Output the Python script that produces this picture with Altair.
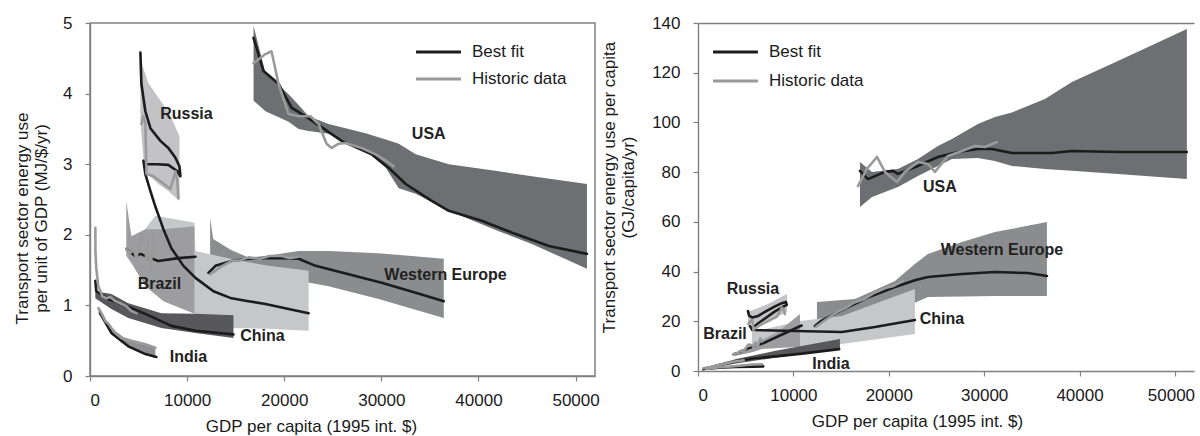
import altair as alt
import pandas as pd

FONT = "Liberation Sans, Arial, Helvetica, sans-serif"
INK = "#1a1a1a"
FIT_COLOR = "#1c1c1c"
HIST_COLOR = "#9a9a9a"
GRID_COLOR = "#808080"

# ---------------- left panel: energy use per unit of GDP (MJ/$/yr) ----------------
# uncertainty bands: GDP grid, lower edge, upper edge
usa_l_x = [16840, 18070, 20450, 21480, 22510, 24570, 28380, 30450, 31790, 33540, 36940, 42100, 45500, 51170]
usa_l_hi = [4.96, 4.29, 3.99, 3.84, 3.68, 3.57, 3.44, 3.35, 3.29, 3.14, 3.00, 2.90, 2.83, 2.72]
usa_l_lo = [3.90, 3.75, 3.60, 3.50, 3.47, 3.43, 3.19, 2.95, 2.66, 2.58, 2.34, 2.05, 1.87, 1.52]

we_l_x = [12370, 12680, 14570, 16320, 18070, 21480, 24570, 29720, 36430]
we_l_hi = [2.24, 1.94, 1.78, 1.68, 1.70, 1.77, 1.77, 1.74, 1.66]
we_l_lo = [1.44, 1.44, 1.42, 1.40, 1.35, 1.35, 1.27, 1.09, 0.82]

ru_l_x = [5190, 5490, 6010, 7040, 8070, 9210]
ru_l_hi = [4.49, 4.36, 4.15, 3.94, 3.75, 3.40]
ru_l_lo = [3.60, 3.10, 2.85, 2.72, 2.62, 2.48]

cn_l_x = [5500, 6730, 10750, 10860, 14470, 18380, 22510]
cn_l_hi = [2.05, 2.27, 2.17, 1.77, 1.66, 1.56, 1.49]
cn_l_lo = [1.90, 1.50, 0.90, 0.81, 0.68, 0.67, 0.64]

br_l_x = [3740, 4260, 5700, 7560, 10750]
br_l_hi = [2.48, 1.98, 2.08, 2.08, 2.12]
br_l_lo = [1.70, 1.60, 1.27, 1.06, 0.88]

dk_l_x = [550, 2200, 3950, 7350, 10860, 14770]
dk_l_hi = [1.20, 1.16, 1.03, 0.89, 0.88, 0.86]
dk_l_lo = [1.10, 0.95, 0.82, 0.68, 0.61, 0.54]

sh_l_x = [870, 2200, 3950, 6730]
sh_l_hi = [0.96, 0.68, 0.50, 0.40]
sh_l_lo = [0.88, 0.59, 0.40, 0.25]

# best-fit curves
usa_fit_l_x = [16840, 17870, 19410, 20750, 22510, 25910, 29000, 30750, 32510, 35190, 36940, 40340, 43850, 47250, 51170]
usa_fit_l_y = [4.79, 4.32, 4.14, 3.80, 3.65, 3.33, 3.14, 2.95, 2.72, 2.48, 2.34, 2.20, 2.01, 1.84, 1.73]
we_fit_l_x = [12200, 12920, 14570, 16320, 18070, 19720, 21480, 23230, 26630, 30030, 33540, 36430]
we_fit_l_y = [1.46, 1.56, 1.63, 1.66, 1.67, 1.67, 1.66, 1.56, 1.44, 1.32, 1.18, 1.06]
ru_fit_l_x = [5190, 5290, 5700, 6220, 7250, 8070, 8800, 9210, 9310, 9000, 8070, 6840, 5700]
ru_fit_l_y = [4.58, 4.14, 3.75, 3.51, 3.33, 3.23, 3.09, 2.97, 2.83, 2.90, 2.99, 3.00, 3.00]
cn_fit_l_x = [5500, 5700, 6220, 6730, 7560, 8380, 9620, 10860, 12710, 14570, 16320, 18070, 20450, 22510]
cn_fit_l_y = [3.05, 2.86, 2.62, 2.40, 2.08, 1.81, 1.56, 1.39, 1.20, 1.10, 1.06, 1.02, 0.95, 0.89]
br_fit_l_x = [3740, 4260, 4670, 5190, 5700, 6220, 7040, 9100, 10860]
br_fit_l_y = [1.80, 1.74, 1.70, 1.73, 1.70, 1.67, 1.63, 1.67, 1.69]
dk_fit_l_x = [550, 650, 1890, 3230, 5700, 8380, 10860, 14770]
dk_fit_l_y = [1.35, 1.20, 1.09, 1.02, 0.88, 0.71, 0.64, 0.59]
sh_fit_l_x = [1060, 2200, 3950, 5700, 6840]
sh_fit_l_y = [0.89, 0.61, 0.42, 0.31, 0.27]

# historic observations
usa_hist_l_x = [16840, 18070, 18690, 19410, 20450, 21480, 22710, 23540, 24360, 24880, 25600, 26320, 27970, 29420, 30450, 31270]
usa_hist_l_y = [4.43, 4.56, 4.60, 4.14, 3.71, 3.68, 3.68, 3.57, 3.29, 3.23, 3.29, 3.30, 3.23, 3.14, 3.05, 2.97]
we_hist_l_x = [12370, 13500, 14570, 15500, 16320, 17500, 18500, 19720, 20500, 21480]
we_hist_l_y = [1.44, 1.55, 1.63, 1.64, 1.68, 1.66, 1.70, 1.70, 1.67, 1.69]
ru_hist_l_x = [5290, 5490, 5700, 5810, 6530, 8280, 8800, 9000, 9100]
ru_hist_l_y = [3.57, 3.68, 3.58, 2.86, 2.83, 2.65, 2.90, 2.76, 2.52]
br_hist_l_x = [3740, 4160, 4470, 4770, 5290, 5700, 5810, 6010, 6220, 6530, 6730]
br_hist_l_y = [1.80, 1.74, 1.81, 1.67, 2.01, 1.81, 1.63, 1.91, 1.49, 2.01, 1.77]
dk_hist_l_x = [550, 560, 650, 860, 1270, 1680, 2090, 2610, 3120, 3740, 4260, 4770]
dk_hist_l_y = [2.10, 1.77, 1.52, 1.27, 1.13, 1.10, 1.12, 1.06, 1.03, 0.99, 0.92, 0.89]
sh_hist_l_x = [870, 1170, 1580, 1890, 2200, 2610, 3230, 4260, 5700, 6730]
sh_hist_l_y = [0.96, 0.89, 0.78, 0.74, 0.68, 0.61, 0.54, 0.50, 0.45, 0.40]

left_label_text = ["Russia", "USA", "Brazil", "China", "India", "Western Europe"]
left_label_x = [9930, 34880, 7150, 17760, 10130, 36610]
left_label_y = [3.71, 3.43, 1.30, 0.57, 0.27, 1.43]

# ---------------- right panel: energy use per capita (GJ/capita/yr) ----------------
usa_r_x = [16980, 18240, 19600, 20960, 23060, 25150, 26620, 29340, 31130, 32910, 36370, 39200, 44020, 51250]
usa_r_hi = [84.1, 80.1, 80.7, 81.3, 85.3, 90.5, 93.3, 99.4, 102.2, 104.0, 109.4, 116.3, 124.7, 137.6]
usa_r_lo = [66.0, 70.0, 72.0, 74.0, 78.4, 82.5, 85.3, 85.7, 84.5, 82.5, 81.3, 80.6, 79.3, 77.2]

we_r_x = [12470, 16450, 20650, 22740, 24100, 27670, 31130, 36580]
we_r_hi = [27.8, 29.0, 36.2, 43.0, 47.1, 51.9, 55.9, 59.9]
we_r_lo = [18.9, 20.1, 23.7, 27.5, 29.8, 30.0, 30.2, 30.2]

ru_r_x = [5240, 7340, 9330]
ru_r_hi = [23.7, 27.0, 31.0]
ru_r_lo = [18.5, 20.1, 23.7]

cn_r_x = [5660, 10690, 15090, 22740]
cn_r_hi = [15.7, 20.1, 22.1, 33.0]
cn_r_lo = [10.9, 9.7, 10.9, 14.9]

br_r_x = [3880, 5660, 6710, 8380, 10690]
br_r_hi = [6.5, 10.1, 12.5, 15.7, 22.9]
br_r_lo = [6.0, 7.5, 8.9, 9.3, 9.7]

dk_r_x = [550, 4000, 8000, 14880]
dk_r_hi = [0.9, 4.8, 8.0, 12.9]
dk_r_lo = [0.6, 3.0, 5.3, 8.9]

sh_r_x = [870, 2200, 3950, 6730]
sh_r_hi = [0.83, 1.49, 1.97, 2.69]
sh_r_lo = [0.76, 1.30, 1.58, 1.68]

usa_fit_r_x = [16980, 17820, 19600, 20440, 20960, 23060, 25150, 27250, 29340, 30810, 32910, 37100, 39200, 44020, 51250]
usa_fit_r_y = [80.5, 77.2, 80.1, 80.5, 79.3, 82.5, 86.1, 88.1, 89.3, 89.3, 87.7, 87.7, 88.5, 88.1, 88.1]
we_fit_r_x = [12260, 12920, 14570, 16450, 18070, 20650, 22740, 24100, 27670, 31130, 34580, 36580]
we_fit_r_y = [18.1, 20.2, 23.5, 27.0, 30.0, 33.8, 36.5, 37.8, 39.0, 39.8, 39.4, 38.2]
ru_fit_r_x = [5240, 5350, 5700, 6220, 7250, 8070, 8800, 9210, 9310, 9000, 8070, 6840, 5700]
ru_fit_r_y = [24.1, 22.3, 21.5, 22.0, 24.3, 26.0, 27.3, 27.8, 26.6, 26.0, 24.0, 20.6, 17.5]
cn_fit_r_x = [5450, 5700, 10170, 15090, 18550, 22740]
cn_fit_r_y = [18.1, 16.5, 16.1, 15.7, 17.7, 20.5]
br_fit_r_x = [3740, 4260, 5190, 5700, 7040, 9100, 10860]
br_fit_r_y = [6.7, 7.4, 9.0, 9.7, 11.5, 15.2, 18.3]
dk_fit_r_x = [550, 1900, 3200, 5700, 8400, 10900, 14800]
dk_fit_r_y = [0.7, 2.1, 3.3, 5.0, 6.0, 7.0, 8.8]
sh_fit_r_x = [1060, 2200, 3950, 5700, 6840]
sh_fit_r_y = [0.95, 1.34, 1.66, 1.77, 1.85]

usa_hist_r_x = [16770, 17710, 18760, 19600, 20860, 21690, 23060, 24100, 24840, 26200, 27670, 29030, 30080, 31340]
usa_hist_r_y = [74.4, 81.3, 86.1, 80.1, 76.0, 80.1, 84.1, 83.3, 80.1, 86.5, 88.5, 90.5, 90.1, 92.1]
we_hist_r_x = [12370, 13500, 14570, 15500, 16320, 17500, 18500, 19720, 20500, 21480]
we_hist_r_y = [17.8, 20.9, 23.7, 25.4, 27.4, 29.1, 31.5, 33.5, 34.2, 36.3]
ru_hist_r_x = [5290, 5490, 5700, 5810, 6530, 8280, 8800, 9000, 9100]
ru_hist_r_y = [18.9, 20.2, 20.4, 16.6, 18.5, 21.9, 25.5, 24.8, 22.9]
br_hist_r_x = [3740, 4160, 4470, 4770, 5290, 5700, 5810, 6010, 6220, 6530, 6730]
br_hist_r_y = [6.7, 7.2, 8.1, 8.0, 10.6, 10.3, 9.5, 11.5, 9.3, 13.1, 11.9]
dk_hist_r_x = [550, 1300, 2100, 3100, 3700, 4800]
dk_hist_r_y = [1.1, 1.6, 2.3, 3.2, 3.7, 4.3]
sh_hist_r_x = [870, 2200, 3230, 4260, 5700, 6730]
sh_hist_r_y = [0.83, 1.5, 1.74, 2.1, 2.6, 2.7]

right_label_text = ["Russia", "Brazil", "India", "China", "Western Europe", "USA"]
right_label_x = [5760, 2830, 13940, 25570, 31860, 25360]
right_label_y = [33.0, 14.9, 2.8, 20.9, 48.7, 74.0]

# band fill colours
C_USA = "#6e6f72"
C_WE = "#8b8c8e"
C_RU = "#c3c3c5"
C_CN = "#c6c7c9"
C_BR = "#9d9d9f"
C_DK = "#58585b"
C_SH = "#8f8f91"

X_TICKS = [0, 10000, 20000, 30000, 40000, 50000]


def band_frame(x, lo, hi):
    return pd.DataFrame({"gdp": x, "lo": lo, "hi": hi})


def line_frame(items, role):
    parts = []
    for name, x, y in items:
        parts.append(pd.DataFrame({"series": name, "role": role,
                                   "step": list(range(len(x))), "gdp": x, "val": y}))
    return pd.concat(parts, ignore_index=True)


def panel(bands, fits, hists, labels, ymax, ystep, width, height, ytitle,
          ytitle_x, ytitle_y, xtitle_x, legend_x, legend_y, row_pad, framed):
    xscale = alt.Scale(domain=[0, 52000], nice=False, zero=False)
    yscale = alt.Scale(domain=[0, ymax], nice=False)
    x_axis_kw = dict(values=X_TICKS, format="d", title="GDP per capita (1995 int. $)",
                     titleX=xtitle_x, titleY=55, titleBaseline="alphabetic", titleAlign="center")
    if not framed:
        x_axis_kw["labelOffset"] = {"condition": {"test": "datum.value == 50000", "value": -4}, "value": 0}
    x_axis = alt.Axis(**x_axis_kw)
    y_axis = alt.Axis(values=list(range(0, ymax + 1, ystep)), format="d", title=ytitle,
                      titleAngle=270, titleX=ytitle_x, titleY=ytitle_y, titleAlign="center",
                      titleBaseline="top", titleLineHeight=19)

    layers = []
    for i, (df, color) in enumerate(bands):
        first = i == 0
        layers.append(
            alt.Chart(df).mark_area(color=color, opacity=1).encode(
                x=alt.X("gdp:Q", scale=xscale, axis=x_axis if first else None),
                y=alt.Y("lo:Q", scale=yscale, axis=y_axis if first else None),
                y2="hi:Q",
            )
        )

    role_scale = alt.Scale(domain=["Best fit", "Historic data"], range=[FIT_COLOR, HIST_COLOR])
    legend = alt.Legend(orient="none", legendX=legend_x, legendY=legend_y, title=None,
                        symbolType="M-4,0H4", symbolSize=126, symbolStrokeWidth=3,
                        labelOffset=25, rowPadding=row_pad, padding=0,
                        labelFont=FONT, labelFontSize=17, labelColor=INK)
    for df in (fits, hists):
        layers.append(
            alt.Chart(df).mark_line(strokeWidth=2.6, strokeJoin="round", strokeCap="round").encode(
                x=alt.X("gdp:Q", scale=xscale, axis=None),
                y=alt.Y("val:Q", scale=yscale, axis=None),
                detail="series:N",
                order="step:Q",
                color=alt.Color("role:N", scale=role_scale, legend=legend),
            )
        )

    if framed:
        label_axis = None
    else:
        # top frame line drawn as a bare axis domain
        label_axis = alt.Axis(orient="top", labels=False, ticks=False, domain=True, title=None)
    layers.append(
        alt.Chart(labels).mark_text(font=FONT, fontSize=16, fontWeight="bold", color="#222222",
                                    align="center", baseline="middle").encode(
            x=alt.X("gdp:Q", scale=xscale, axis=label_axis),
            y=alt.Y("val:Q", scale=yscale, axis=None),
            text="label:N",
        )
    )

    chart = alt.layer(*layers).properties(width=width, height=height)
    chart = chart.resolve_axis(x="independent", y="independent")
    if framed:
        chart = chart.properties(view=alt.ViewBackground(stroke=GRID_COLOR, strokeWidth=1.5))
    return chart


left = panel(
    bands=[(band_frame(usa_l_x, usa_l_lo, usa_l_hi), C_USA),
           (band_frame(we_l_x, we_l_lo, we_l_hi), C_WE),
           (band_frame(ru_l_x, ru_l_lo, ru_l_hi), C_RU),
           (band_frame(cn_l_x, cn_l_lo, cn_l_hi), C_CN),
           (band_frame(br_l_x, br_l_lo, br_l_hi), C_BR),
           (band_frame(dk_l_x, dk_l_lo, dk_l_hi), C_DK),
           (band_frame(sh_l_x, sh_l_lo, sh_l_hi), C_SH)],
    fits=line_frame([("usa", usa_fit_l_x, usa_fit_l_y), ("we", we_fit_l_x, we_fit_l_y),
                     ("ru", ru_fit_l_x, ru_fit_l_y), ("cn", cn_fit_l_x, cn_fit_l_y),
                     ("br", br_fit_l_x, br_fit_l_y), ("dk", dk_fit_l_x, dk_fit_l_y),
                     ("sh", sh_fit_l_x, sh_fit_l_y)], "Best fit"),
    hists=line_frame([("usa", usa_hist_l_x, usa_hist_l_y), ("we", we_hist_l_x, we_hist_l_y),
                      ("ru", ru_hist_l_x, ru_hist_l_y), ("br", br_hist_l_x, br_hist_l_y),
                      ("dk", dk_hist_l_x, dk_hist_l_y), ("sh", sh_hist_l_x, sh_hist_l_y)],
                     "Historic data"),
    labels=pd.DataFrame({"label": left_label_text, "gdp": left_label_x, "val": left_label_y}),
    ymax=5, ystep=1, width=505, height=353,
    ytitle=["Transport sector energy use", "per unit of GDP (MJ/$/yr)"],
    ytitle_x=-76, ytitle_y=195, xtitle_x=221,
    legend_x=340, legend_y=20.5, row_pad=9, framed=True,
)

right = panel(
    bands=[(band_frame(usa_r_x, usa_r_lo, usa_r_hi), C_USA),
           (band_frame(we_r_x, we_r_lo, we_r_hi), C_WE),
           (band_frame(ru_r_x, ru_r_lo, ru_r_hi), C_RU),
           (band_frame(cn_r_x, cn_r_lo, cn_r_hi), C_CN),
           (band_frame(br_r_x, br_r_lo, br_r_hi), C_BR),
           (band_frame(dk_r_x, dk_r_lo, dk_r_hi), C_DK),
           (band_frame(sh_r_x, sh_r_lo, sh_r_hi), C_SH)],
    fits=line_frame([("usa", usa_fit_r_x, usa_fit_r_y), ("we", we_fit_r_x, we_fit_r_y),
                     ("ru", ru_fit_r_x, ru_fit_r_y), ("cn", cn_fit_r_x, cn_fit_r_y),
                     ("br", br_fit_r_x, br_fit_r_y), ("dk", dk_fit_r_x, dk_fit_r_y),
                     ("sh", sh_fit_r_x, sh_fit_r_y)], "Best fit"),
    hists=line_frame([("usa", usa_hist_r_x, usa_hist_r_y), ("we", we_hist_r_x, we_hist_r_y),
                      ("ru", ru_hist_r_x, ru_hist_r_y), ("br", br_hist_r_x, br_hist_r_y),
                      ("dk", dk_hist_r_x, dk_hist_r_y), ("sh", sh_hist_r_x, sh_hist_r_y)],
                     "Historic data"),
    labels=pd.DataFrame({"label": right_label_text, "gdp": right_label_x, "val": right_label_y}),
    ymax=140, ystep=20, width=496, height=348,
    ytitle=["Transport sector energy use per capita", "(GJ/capita/yr)"],
    ytitle_x=-96.5, ytitle_y=164, xtitle_x=219,
    legend_x=29, legend_y=20.5, row_pad=11, framed=False,
)

chart = (
    alt.hconcat(left, right, spacing=0)
    .resolve_scale(color="independent")
    .resolve_legend(color="independent")
    .properties(padding={"left": 12, "top": 13, "right": 0, "bottom": 0}, background="white")
    .configure(font=FONT)
    .configure_view(stroke=None)
    .configure_axis(labelFont=FONT, labelFontSize=17, labelColor=INK,
                    titleFont=FONT, titleFontSize=17, titleFontWeight="normal", titleColor=INK,
                    domainColor=GRID_COLOR, domainWidth=1.4, tickColor=GRID_COLOR,
                    tickSize=5, tickWidth=1.2, grid=False)
    .configure_axisX(labelPadding=11)
    .configure_axisY(labelPadding=13)
)

chart.save("out.html", embed_options={"renderer": "svg", "actions": False})
